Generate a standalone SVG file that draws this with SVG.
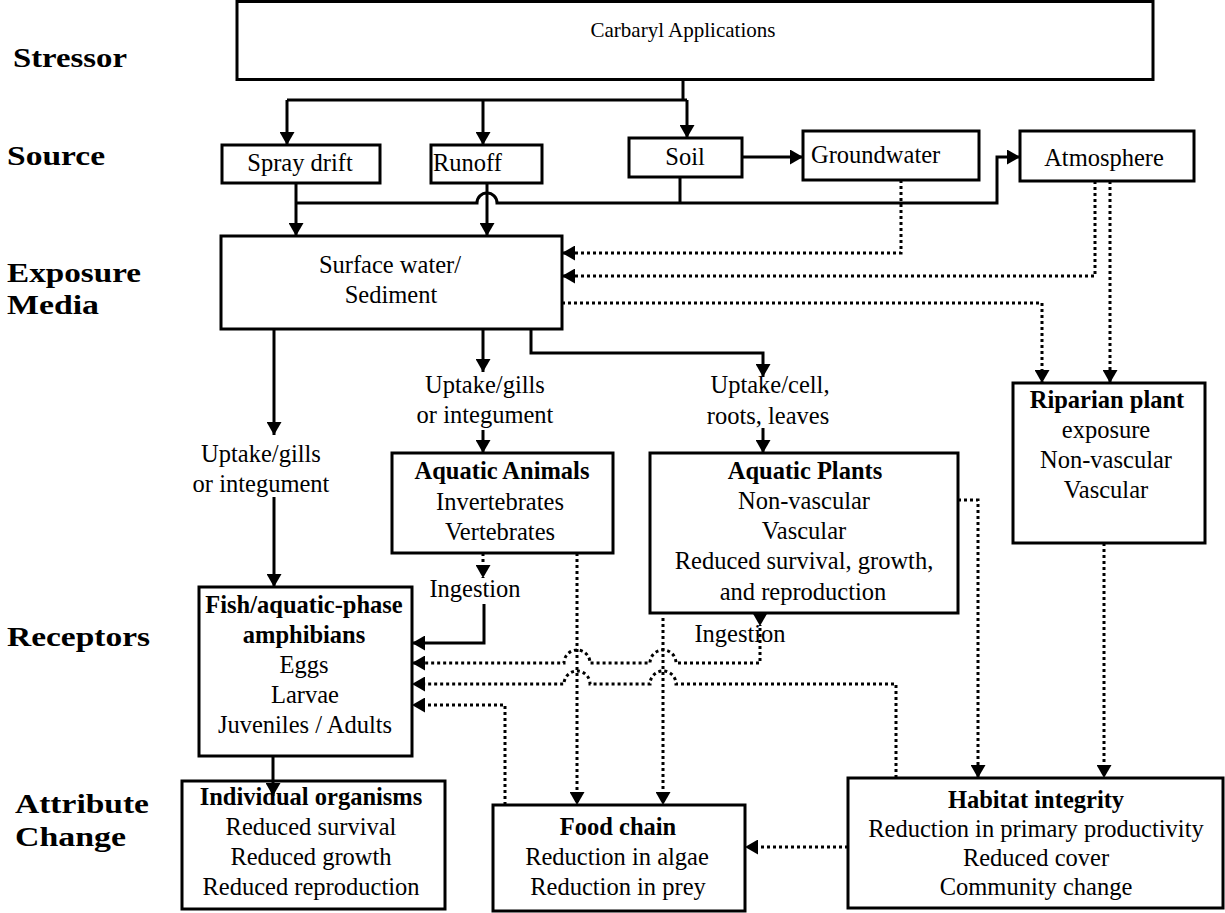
<svg xmlns="http://www.w3.org/2000/svg" width="1225" height="913" viewBox="0 0 1225 913">
<style>
.box{fill:#fff;stroke:#000;stroke-width:3}
.t{font-family:"Liberation Serif","Times New Roman",serif;font-size:24.5px;fill:#000;text-anchor:middle}
.st{text-anchor:start}
.b{font-weight:bold}
.lbl{font-family:"Liberation Serif","Times New Roman",serif;font-weight:bold;font-size:28px;fill:#000}
.s{fill:none;stroke:#000;stroke-width:3}
.d{fill:none;stroke:#000;stroke-width:3;stroke-dasharray:3 3}
</style>
<defs>
<marker id="ah" viewBox="0 0 13 15" refX="13" refY="7.5" markerWidth="13" markerHeight="15" markerUnits="userSpaceOnUse" orient="auto">
<path d="M0,0 L13,7.5 L0,15 z" fill="#000"/>
</marker>
</defs>
<rect width="1225" height="913" fill="#fff"/>

<g id="labels">
<text class="lbl" x="13" y="67" textLength="114" lengthAdjust="spacingAndGlyphs">Stressor</text>
<text class="lbl" x="7" y="165" textLength="98" lengthAdjust="spacingAndGlyphs">Source</text>
<text class="lbl" x="7" y="282" textLength="134" lengthAdjust="spacingAndGlyphs">Exposure</text>
<text class="lbl" x="7" y="314" textLength="92" lengthAdjust="spacingAndGlyphs">Media</text>
<text class="lbl" x="7" y="646" textLength="143" lengthAdjust="spacingAndGlyphs">Receptors</text>
<text class="lbl" x="15" y="813" textLength="134" lengthAdjust="spacingAndGlyphs">Attribute</text>
<text class="lbl" x="15" y="846" textLength="111" lengthAdjust="spacingAndGlyphs">Change</text>
</g>

<g id="carbaryl">
<rect class="box" x="237" y="1.5" width="916" height="78"/>
<text class="t" x="683" y="37" style="font-size:21px">Carbaryl Applications</text>
</g>
<g id="spraydrift">
<rect class="box" x="222" y="145" width="158" height="38"/>
<text class="t" x="300" y="171">Spray drift</text>
</g>
<g id="runoff">
<rect class="box" x="431" y="145" width="111" height="38"/>
<text class="t st" x="433" y="171">Runoff</text>
</g>
<g id="soil">
<rect class="box" x="629" y="138" width="113" height="39"/>
<text class="t" x="685" y="165">Soil</text>
</g>
<g id="groundwater">
<rect class="box" x="803" y="131" width="176" height="49"/>
<text class="t st" x="811" y="163">Groundwater</text>
</g>
<g id="atmosphere">
<rect class="box" x="1020" y="131" width="174" height="50"/>
<text class="t" x="1104" y="166">Atmosphere</text>
</g>
<g id="surfacewater">
<rect class="box" x="221" y="236" width="341" height="93"/>
<text class="t" x="390" y="273">Surface water/</text>
<text class="t" x="391" y="303">Sediment</text>
</g>
<g id="aquaticanimals">
<rect class="box" x="392" y="453" width="221" height="100"/>
<text class="t b" x="502" y="479">Aquatic Animals</text>
<text class="t" x="500" y="510">Invertebrates</text>
<text class="t" x="500" y="540">Vertebrates</text>
</g>
<g id="aquaticplants">
<rect class="box" x="650" y="453" width="308" height="160"/>
<text class="t b" x="805" y="479">Aquatic Plants</text>
<text class="t" x="804" y="509">Non-vascular</text>
<text class="t" x="804" y="539">Vascular</text>
<text class="t" x="804" y="569">Reduced survival, growth,</text>
<text class="t" x="803" y="600">and reproduction</text>
</g>
<g id="riparian">
<rect class="box" x="1013" y="383" width="192" height="160"/>
<text class="t b" x="1107" y="408">Riparian plant</text>
<text class="t" x="1106" y="438">exposure</text>
<text class="t" x="1106" y="468">Non-vascular</text>
<text class="t" x="1106" y="498">Vascular</text>
</g>
<g id="fish">
<rect class="box" x="199" y="587" width="213" height="169"/>
<text class="t b" x="304" y="613">Fish/aquatic-phase</text>
<text class="t b" x="304" y="643">amphibians</text>
<text class="t" x="304" y="673">Eggs</text>
<text class="t" x="305" y="703">Larvae</text>
<text class="t" x="305" y="733">Juveniles / Adults</text>
</g>
<g id="individual">
<rect class="box" x="182" y="781" width="263" height="128"/>
<text class="t b" x="311" y="805">Individual organisms</text>
<text class="t" x="311" y="835">Reduced survival</text>
<text class="t" x="311" y="865">Reduced growth</text>
<text class="t" x="311" y="895">Reduced reproduction</text>
</g>
<g id="foodchain">
<rect class="box" x="493" y="805" width="252" height="106"/>
<text class="t b" x="618" y="835">Food chain</text>
<text class="t" x="617" y="865">Reduction in algae</text>
<text class="t" x="618" y="895">Reduction in prey</text>
</g>
<g id="habitat">
<rect class="box" x="848" y="778" width="375" height="130"/>
<text class="t b" x="1036" y="808">Habitat integrity</text>
<text class="t" x="1036" y="837">Reduction in primary productivity</text>
<text class="t" x="1036" y="866">Reduced cover</text>
<text class="t" x="1036" y="895">Community change</text>
</g>
<g id="edge-labels">
<text class="t" x="261" y="462">Uptake/gills</text>
<text class="t" x="261" y="492">or integument</text>
<text class="t" x="485" y="393">Uptake/gills</text>
<text class="t" x="485" y="423">or integument</text>
<text class="t" x="770" y="393">Uptake/cell,</text>
<text class="t" x="768" y="424">roots, leaves</text>
<text class="t" x="475" y="597">Ingestion</text>
<text class="t" x="740" y="642">Ingestion</text>
</g>

<g id="connectors">
<path class="s" d="M683,80 V100"/>
<path class="s" d="M287,100 H687"/>
<path class="s" d="M287,100 V145" marker-end="url(#ah)"/>
<path class="s" d="M483,100 V145" marker-end="url(#ah)"/>
<path class="s" d="M687,100 V138" marker-end="url(#ah)"/>
<path class="s" d="M742,157 H803" marker-end="url(#ah)"/>
<path class="s" d="M296,183 V236" marker-end="url(#ah)"/>
<path class="s" d="M487,183 V236" marker-end="url(#ah)"/>
<path class="s" d="M680,177 V203"/>
<path class="s" d="M296,203 H477 A10,10 0 0 1 497,203 H997 V157 H1020" marker-end="url(#ah)"/>
<path class="d" d="M901,180 V253 H562" marker-end="url(#ah)"/>
<path class="d" d="M1095,181 V276 H562" marker-end="url(#ah)"/>
<path class="d" d="M1110,181 V383" marker-end="url(#ah)"/>
<path class="d" d="M562,303 H1042 V383" marker-end="url(#ah)"/>
<path class="s" d="M274,329 V435" marker-end="url(#ah)"/>
<path class="s" d="M274,497 V587" marker-end="url(#ah)"/>
<path class="s" d="M483,329 V372" marker-end="url(#ah)"/>
<path class="s" d="M483,430 V453" marker-end="url(#ah)"/>
<path class="s" d="M531,329 V353 H763 V377" marker-end="url(#ah)"/>
<path class="s" d="M763,428 V453" marker-end="url(#ah)"/>
<path class="d" d="M483,553 V578" marker-end="url(#ah)"/>
<path class="s" d="M484,604 V643 H412" marker-end="url(#ah)"/>
<path class="d" d="M760,613 V626" marker-end="url(#ah)"/>
<path class="d" d="M760,628 V663 H676 A13,13 0 0 0 650,663 H590 A13,13 0 0 0 564,663 H412" marker-end="url(#ah)"/>
<path class="d" d="M896,778 V684 H676 A13,13 0 0 0 650,684 H590 A13,13 0 0 0 564,684 H412" marker-end="url(#ah)"/>
<path class="d" d="M505,805 V705 H412" marker-end="url(#ah)"/>
<path class="d" d="M577,553 V805" marker-end="url(#ah)"/>
<path class="d" d="M663,618 V805" marker-end="url(#ah)"/>
<path class="d" d="M848,847 H745" marker-end="url(#ah)"/>
<path class="d" d="M958,500 H978 V778" marker-end="url(#ah)"/>
<path class="d" d="M1104,543 V778" marker-end="url(#ah)"/>
<path class="s" d="M273,756 V796" marker-end="url(#ah)"/>
</g>
</svg>
